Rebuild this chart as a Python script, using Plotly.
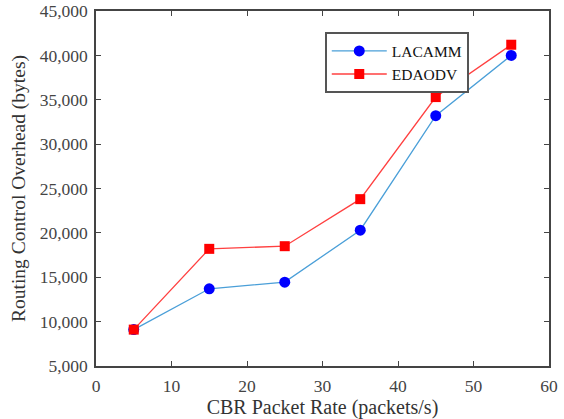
import plotly.graph_objects as go

x_rate = [5, 15, 25, 35, 45, 55]
lacamm = [9100, 13700, 14450, 20300, 33200, 40000]
edaodv = [9100, 18200, 18500, 23800, 35300, 41200]

fig = go.Figure()
fig.add_trace(go.Scatter(x=x_rate, y=lacamm, name="LACAMM", mode="lines+markers",
                         line=dict(color="#4a9fd8", width=1.3),
                         marker=dict(symbol="circle", size=11, color="#0000ff")))
fig.add_trace(go.Scatter(x=x_rate, y=edaodv, name="EDAODV", mode="lines+markers",
                         line=dict(color="#ff4040", width=1.3),
                         marker=dict(symbol="square", size=10, color="#ff0000")))

font = "Liberation Serif, Times New Roman, serif"
axis_common = dict(showgrid=False, zeroline=False, showline=True, linecolor="#444444",
                   linewidth=1.5, mirror="ticks", ticks="inside", ticklen=5,
                   tickcolor="#444444", automargin=False, ticklabelstandoff=3,
                   ticklabeloverflow="allow",
                   tickfont=dict(family=font, size=17.5, color="#444444"))
fig.update_xaxes(range=[0, 60], dtick=10, title=dict(text="CBR Packet Rate (packets/s)",
                 font=dict(family=font, size=20, color="#333333"), standoff=0), **axis_common)
fig.update_yaxes(range=[5000, 45000], dtick=5000, tickformat=",",
                 title=dict(text="Routing Control Overhead (bytes)",
                 font=dict(family=font, size=19.5, color="#333333"), standoff=9), **axis_common)
fig.update_layout(
    width=564, height=419,
    margin=dict(l=96, r=15, t=11, b=53),
    plot_bgcolor="white", paper_bgcolor="white",
    legend=dict(x=0.505, y=0.94, xanchor="left", yanchor="top",
                bordercolor="#555555", borderwidth=2, bgcolor="white",
                font=dict(family=font, size=15.5, color="#111111"),
                tracegroupgap=0, itemwidth=55),
    showlegend=True,
)
fig.write_html("out.html", config={"displayModeBar": False},
               post_script="document.body.style.margin='0';")
